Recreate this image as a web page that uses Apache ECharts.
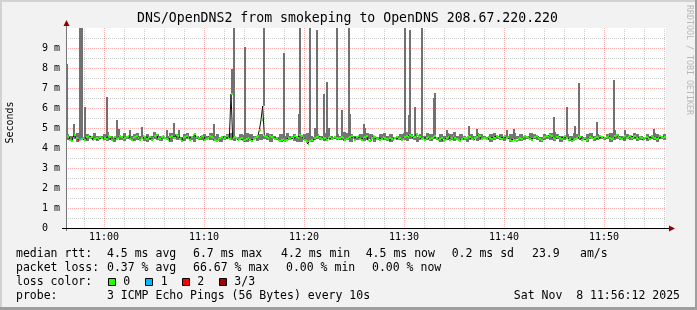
<!DOCTYPE html>
<html><head><meta charset="utf-8">
<script src="https://cdn.jsdelivr.net/npm/echarts@6/dist/echarts.min.js"></script>
<style>html,body{margin:0;padding:0;background:#f2f2f2}#c{width:697px;height:310px}</style>
</head><body><div id="c"></div>
<script>
// time axis in minutes after 10:00 ; first sample 10:56:12, one sample every 10 s
const startMin = 56.2;
const stepMin = 1 / 6;
// median RTT (ms), one value per 10 s step
const median = [
4.6,4.55,4.4,4.35,4.5,4.65,4.5,4.4,4.45,4.43,4.5,4.4,4.55,4.6,4.5,4.55,4.4,4.45,4.5,4.45,
4.55,4.5,4.4,4.5,4.45,4.6,4.55,4.4,4.5,4.55,4.45,4.5,4.6,4.55,4.45,4.5,4.55,4.6,4.45,4.4,
4.5,4.55,4.6,4.5,4.4,4.5,4.6,4.55,4.45,4.5,4.55,4.4,4.5,4.6,4.65,4.5,4.45,4.55,4.6,4.5,
4.45,4.4,4.55,4.6,4.5,4.5,4.65,4.6,4.45,4.35,4.5,4.55,4.6,4.5,4.4,4.55,4.65,4.7,4.55,4.45,
4.5,4.6,4.55,4.4,4.45,4.5,4.6,4.55,4.5,4.4,4.35,4.45,4.5,4.55,4.45,4.5,4.6,4.5,4.45,6.7,
4.5,4.55,4.5,4.4,4.45,4.5,4.35,4.4,4.45,4.5,4.4,4.35,4.45,4.5,4.55,4.6,4.9,5.4,6.1,4.6,
4.55,4.5,4.6,4.55,4.5,4.45,4.5,4.4,4.35,4.4,4.45,4.35,4.4,4.5,4.45,4.55,4.5,4.6,4.55,4.5,
4.65,4.6,4.5,4.4,4.35,4.2,4.35,4.4,4.35,4.5,4.55,4.6,4.5,4.45,4.55,4.5,4.4,4.5,4.55,4.45,
4.5,4.55,4.5,4.45,4.5,4.55,4.5,4.4,4.45,4.5,4.55,4.6,4.5,4.4,4.55,4.6,4.45,4.4,4.5,4.55,
4.6,4.4,4.35,4.5,4.6,4.55,4.45,4.5,4.4,4.45,4.55,4.5,4.45,4.4,4.5,4.45,4.4,4.5,4.55,4.45,
4.5,4.4,4.45,4.55,4.6,4.55,4.65,4.6,4.5,4.55,4.7,4.6,4.55,4.45,4.5,4.4,4.5,4.55,4.45,4.5,
4.55,4.6,4.5,4.4,4.45,4.5,4.35,4.4,4.5,4.55,4.4,4.5,4.6,4.5,4.45,4.4,4.35,4.45,4.55,4.5,
4.5,4.6,4.55,4.45,4.4,4.5,4.55,4.65,4.6,4.45,4.5,4.5,4.45,4.55,4.5,4.45,4.55,4.5,4.6,4.55,
4.5,4.45,4.55,4.6,4.5,4.55,4.4,4.35,4.45,4.4,4.35,4.45,4.5,4.45,4.55,4.6,4.55,4.5,4.45,4.4,
4.5,4.55,4.6,4.5,4.45,4.4,4.5,4.55,4.6,4.55,4.65,4.6,4.5,4.45,4.55,4.6,4.5,4.45,4.55,4.6,
4.5,4.4,4.45,4.35,4.4,4.45,4.5,4.6,4.55,4.4,4.45,4.5,4.4,4.45,4.55,4.5,4.45,4.5,4.55,4.5,
4.6,4.55,4.45,4.5,4.55,4.6,4.5,4.45,4.5,4.6,4.65,4.55,4.5,4.45,4.55,4.6,4.5,4.55,4.6,4.5,
4.55,4.6,4.5,4.45,4.55,4.5,4.4,4.5,4.55,4.5,4.45,4.6,4.55,4.5,4.45,4.5,4.6,4.55,4.5,4.55
];
// smoke (min/max of pings, ms), one value per 20 s
const smokeLo = [
4.4,4.35,4.45,4.3,4.4,4.4,4.35,4.45,4.4,4.35,4.45,4.4,4.35,4.4,4.3,4.45,4.4,4.35,4.45,4.4,
4.35,4.4,4.45,4.35,4.3,4.4,4.45,4.4,4.35,4.45,4.4,4.3,4.45,4.4,4.4,4.35,4.45,4.4,4.3,4.45,
4.4,4.35,4.45,4.4,4.35,4.4,4.3,4.4,4.45,4.4,4.35,4.45,4.4,4.3,4.3,4.4,4.45,4.35,4.4,4.45,
4.4,4.3,4.45,4.4,4.3,4.35,4.4,4.45,4.35,4.3,4.3,4.4,4.35,4.3,4.4,4.45,4.4,4.35,4.45,4.4,
4.45,4.4,4.4,4.35,4.4,4.3,4.45,4.4,4.4,4.35,4.4,4.45,4.3,4.4,4.45,4.4,4.35,4.3,4.45,4.4,
4.45,4.4,4.35,4.45,4.4,4.3,4.4,4.45,4.4,4.35,4.45,4.4,4.3,4.45,4.4,4.4,4.35,4.4,4.45,4.4,
4.3,4.4,4.45,4.35,4.4,4.45,4.4,4.3,4.4,4.45,4.4,4.35,4.45,4.3,4.4,4.45,4.35,4.4,4.45,4.4,
4.45,4.4,4.3,4.4,4.45,4.4,4.35,4.45,4.3,4.4,4.45,4.35,4.4,4.45,4.4,4.4,4.3,4.45,4.35,4.4,
4.45,4.4,4.45,4.3,4.4,4.45,4.4,4.35,4.45,4.4,4.45,4.35,4.4,4.45,4.35,4.45,4.4,4.3,4.45,4.4
];
const smokeHi = [
4.7,4.6,4.6,4.75,4.6,4.55,4.7,4.6,4.75,4.6,4.6,4.7,4.8,4.6,4.55,4.7,4.6,4.75,4.6,4.6,
4.7,4.75,4.6,4.55,4.7,4.6,4.8,4.7,4.6,4.55,4.6,4.75,4.7,4.6,4.55,4.7,4.75,4.6,4.7,4.6,
4.55,4.7,4.6,4.75,4.6,4.7,4.55,4.6,4.7,4.75,4.6,4.55,4.7,4.65,4.75,4.7,4.6,4.55,4.7,4.6,
4.75,4.7,4.6,4.55,4.7,4.6,4.75,4.6,4.7,4.55,4.6,4.7,4.75,4.6,4.55,4.7,4.6,4.75,4.7,4.6,
4.55,4.7,4.6,4.8,4.75,4.7,4.6,4.55,4.7,4.6,4.75,4.7,4.6,4.55,4.7,4.75,4.6,4.7,4.55,4.6,
4.7,4.75,4.8,4.7,4.6,4.55,4.7,4.6,4.75,4.7,4.6,4.55,4.7,4.6,4.75,4.7,4.8,4.6,4.7,4.6,
4.55,4.7,4.6,4.75,4.7,4.6,4.55,4.7,4.75,4.6,4.7,4.6,4.55,4.7,4.75,4.6,4.7,4.55,4.6,4.75,
4.7,4.6,4.55,4.7,4.6,4.75,4.8,4.7,4.6,4.55,4.7,4.6,4.75,4.7,4.6,4.55,4.7,4.75,4.6,4.7,
4.6,4.55,4.7,4.75,4.6,4.7,4.6,4.55,4.7,4.6,4.75,4.7,4.6,4.55,4.7,4.6,4.75,4.7,4.6,4.7
];
// high ping of single 10 s steps that stand out: [step index, max ms]
const spikes = [
[0,8.2],[4,5.2],[8,10],[9,10],[11,6.05],[24,6.55],[30,5.4],[31,4.95],[38,4.9],[45,5.07],
[60,4.9],[64,5.27],[67,4.9],[88,5.2],[99,7.95],[100,10],[107,9.05],[116,4.95],[118,10],[130,8.75],
[139,5.7],[140,10],[146,10],[149,5.0],[150,9.9],[154,6.7],[156,7.3],[157,5.0],[162,10],[165,5.9],
[169,10],[170,5.7],[178,5.2],[179,5.0],[203,10],[205,5.67],[206,9.9],[209,6.05],[213,10],[220,6.5],
[221,6.75],[228,4.9],[241,5.1],[246,4.95],[264,4.9],[268,4.95],[292,5.55],[300,6.05],[305,5.1],[307,7.25],
[318,5.3],[328,7.4],[329,4.9],[335,4.9],[352,4.95]
];
// steps with packet loss: [step index, lost pings]
const lossPoints = [[7,2],[8,1]];
const lossColors = ['#26ff00','#00b8ff','#ff0000','#a00000'];
const minorGridMin = [58,62,64,66,68,72,74,76,78,82,84,86,88,92,94,96,98,102,104,106,108,112,114,116];

const lossAt = {};
lossPoints.forEach(p => lossAt[p[0]] = p[1]);
const T = j => startMin + j * stepMin;

const smokeData = smokeLo.map((lo, k) => [T(2*k), T(2*k+2), lo, smokeHi[k]]);
const spikeData = spikes.map(s => [T(s[0]), T(s[0]+1), median[s[0]], s[1]]);
const bandData = median.map((v, j) => [T(j), T(j+1), v, lossAt[j] || 0]);
const lineData = median.map((v, j) => [T(j), v]);
lineData.push([T(median.length), median[median.length-1]]);

function rectRender(fill, minW) {
  return function (params, api) {
    const a = api.coord([api.value(0), api.value(3)]);
    const b = api.coord([api.value(1), api.value(2)]);
    const x0 = Math.round(a[0]);
    let x1 = Math.round(b[0]);
    if (x1 - x0 < minW) x1 = x0 + minW;
    const y0 = Math.round(a[1]), y1 = Math.round(b[1]);
    return {type:'rect', shape:{x:x0, y:y0, width:x1-x0, height:Math.max(1, y1-y0)}, style:{fill:fill}};
  };
}
const mono = 'DejaVu Sans Mono';
const pad = n => (n < 10 ? '0' : '') + n;
const fmtTime = v => { const m = Math.round(v); return (10 + Math.floor(m/60)) + ':' + pad(m % 60); };

function txt(x, y, s, opt) {
  opt = opt || {};
  return {type:'text', x:x, y:y, rotation: opt.rot || 0, z:100,
    style:{text:s, font:(opt.size||11.5)+'px "'+mono+'"', fill:opt.fill||'#000',
      align:opt.align||'left', verticalAlign:'middle', textAlign:opt.align||'left', textVerticalAlign:'middle'}};
}
function box(x, y, c) {
  return {type:'rect', shape:{x:x, y:y, width:7, height:7}, z:100, style:{fill:c, stroke:'#000', lineWidth:1}};
}
const redGrid = {color:'rgba(255,0,0,0.3)', type:[1,1], width:1};
const grayGrid = {color:'#cdcdcd', type:[1,1], width:1};

const chart = echarts.init(document.getElementById('c'), null, {renderer:'canvas'});
chart.setOption({
  animation:false,
  backgroundColor:'#f2f2f2',
  grid:{left:66, right:31, top:28, bottom:82, show:true, backgroundColor:'#ffffff', borderWidth:0},
  xAxis:{type:'value', min:startMin, max:startMin+60, splitNumber:6,
    axisLine:{show:false}, axisTick:{show:false},
    axisLabel:{showMinLabel:false, showMaxLabel:false, margin:4, fontFamily:mono, fontSize:10, color:'#000',
      formatter:v => (Math.abs(v % 10) < 1e-6 ? fmtTime(v) : '')},
    splitLine:{show:true, showMinLine:false, showMaxLine:false, lineStyle:redGrid}},
  yAxis:{type:'value', min:0, max:10, interval:1,
    axisLine:{show:false}, axisTick:{show:false},
    axisLabel:{showMaxLabel:false, margin:6, fontFamily:mono, fontSize:10, color:'#000',
      formatter:v => v === 0 ? '0\u00a0\u00a0' : (v === 10 ? '' : v + ' m')},
    splitLine:{show:true, showMinLine:false, showMaxLine:false, lineStyle:redGrid},
    minorTick:{show:false, splitNumber:2},
    minorSplitLine:{show:true, lineStyle:grayGrid}},
  series:[
    {type:'custom', name:'grid', z:1, silent:true, data:minorGridMin.map(m => [m]),
      renderItem:(params, api) => {
        const p = api.coord([api.value(0), 0]); const q = api.coord([api.value(0), 10]);
        const x = Math.round(p[0]) + 0.5;
        return {type:'line', shape:{x1:x, y1:p[1], x2:x, y2:q[1]}, style:{stroke:'#cdcdcd', lineWidth:1, lineDash:[1,1]}};
      }},
    {type:'custom', name:'smoke', z:2, clip:true, data:smokeData, renderItem:rectRender('#767676', 1)},
    {type:'custom', name:'spikes', z:3, clip:true, data:spikeData, renderItem:rectRender('#717171', 2)},
    {type:'line', name:'median', z:4, data:lineData, step:'end', showSymbol:false, clip:true,
      lineStyle:{color:'#111', width:1}},
    {type:'custom', name:'medianBand', z:5, clip:true, data:bandData,
      renderItem:(params, api) => {
        const a = api.coord([api.value(0), api.value(2)]);
        const b = api.coord([api.value(1), api.value(2)]);
        const x0 = Math.round(a[0]), x1 = Math.round(b[0]);
        return {type:'rect', shape:{x:x0, y:Math.round(a[1]-1), width:Math.max(1, x1-x0), height:2}, style:{fill:lossColors[api.value(3)]}};
      }}
  ],
  graphic:[
    {type:'rect', shape:{x:0, y:0, width:697, height:2}, style:{fill:'#d2d2d2'}, z:100},
    {type:'rect', shape:{x:0, y:0, width:2, height:310}, style:{fill:'#d2d2d2'}, z:100},
    {type:'rect', shape:{x:695, y:0, width:2, height:310}, style:{fill:'#9e9e9e'}, z:100},
    {type:'rect', shape:{x:0, y:307, width:697, height:3}, style:{fill:'#9e9e9e'}, z:100},
    {type:'line', shape:{x1:66.5, y1:23, x2:66.5, y2:231}, style:{stroke:'#777', lineWidth:1}, z:90},
    {type:'line', shape:{x1:62, y1:228.5, x2:670, y2:228.5}, style:{stroke:'#000', lineWidth:1}, z:90},
    {type:'polygon', shape:{points:[[66.5,20],[63.5,26],[69.5,26]]}, style:{fill:'#8b0000'}, z:91},
    {type:'polygon', shape:{points:[[675,228.5],[669,225.5],[669,231.5]]}, style:{fill:'#8b0000'}, z:91},
    txt(347.5, 19, 'DNS/OpenDNS2 from smokeping to OpenDNS 208.67.220.220', {size:13.2, align:'center'}),
    txt(10, 122.5, 'Seconds', {size:10, align:'center', rot:Math.PI/2}),
    txt(689, 60, 'RRDTOOL / TOBI OETIKER', {size:8.3, align:'center', rot:-Math.PI/2, fill:'#b8b8b8'}),
    txt(16, 254.5, 'median rtt:'), txt(107, 254.5, '4.5 ms avg'), txt(193, 254.5, '6.7 ms max'),
    txt(281, 254.5, '4.2 ms min'), txt(365.7, 254.5, '4.5 ms now'), txt(451.7, 254.5, '0.2 ms sd'),
    txt(532, 254.5, '23.9'), txt(580, 254.5, 'am/s'),
    txt(16, 268.5, 'packet loss:'), txt(107, 268.5, '0.37 % avg'), txt(193, 268.5, '66.67 % max'),
    txt(286, 268.5, '0.00 % min'), txt(372, 268.5, '0.00 % now'),
    txt(16, 282.5, 'loss color:'),
    box(108.5, 278.5, lossColors[0]), txt(123.3, 282.5, '0'),
    box(145.5, 278.5, lossColors[1]), txt(160.7, 282.5, '1'),
    box(182.5, 278.5, lossColors[2]), txt(197.3, 282.5, '2'),
    box(219.5, 278.5, lossColors[3]), txt(234.3, 282.5, '3/3'),
    txt(16, 296.5, 'probe:'), txt(107, 296.5, '3 ICMP Echo Pings (56 Bytes) every 10s'),
    txt(680, 296.5, 'Sat Nov  8 11:56:12 2025', {align:'right'})
  ]
});
</script></body></html>
